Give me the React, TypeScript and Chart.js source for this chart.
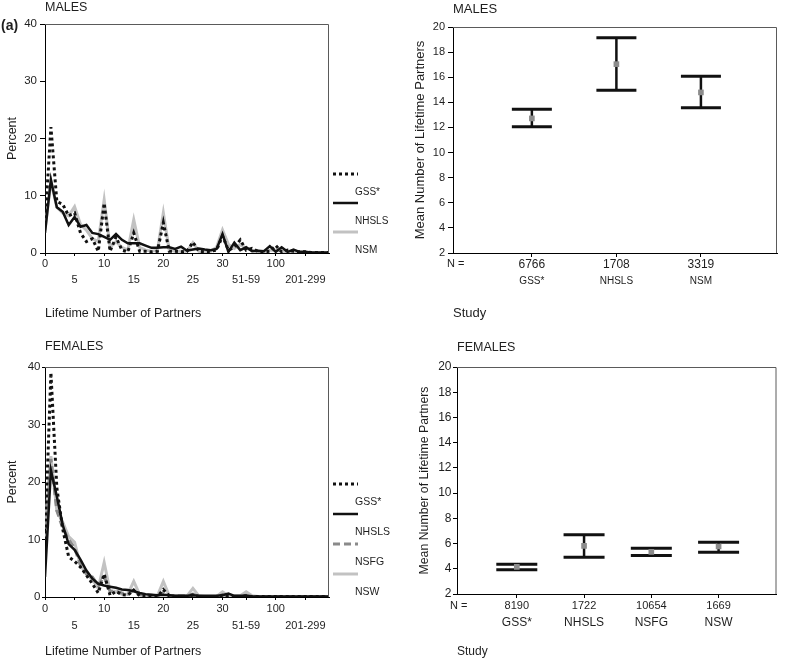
import React, { useEffect, useRef } from 'react';
import { Chart, registerables } from 'chart.js';

Chart.register(...registerables);

const FONT = '"Liberation Sans", Arial, Helvetica, sans-serif';
const TEXT = '#1e1e1e';
Chart.defaults.font.family = FONT;
Chart.defaults.color = TEXT;

// ---------- data: lifetime number of partners distribution ----------
const partnerCategories = [
  '0', '1', '2', '3', '4', '5', '6', '7', '8', '9', '10', '11', '12', '13', '14', '15', '16', '17', '18', '19',
  '20', '21', '22', '23', '24', '25', '26', '27', '28', '29', '30', '31-35', '36-40', '41-50', '51-59', '60-69',
  '70-79', '80-89', '90-99', '100', '101-125', '126-150', '151-175', '176-200', '201-299', '300-399', '400-499',
  '500-999', '1000+',
];
const shownPartnerTicks = ['0', '5', '10', '15', '20', '25', '30', '51-59', '100', '201-299'];

const maleGSS = [5, 22, 9, 8.5, 6.5, 7, 3.5, 2, 2.5, 0.3, 8.7, 0.3, 2.8, 0.5, 0.2, 3.5, 0.3, 0.3, 0.2, 0.3, 5.3, 0.3, 0.3, 0.2, 0.3, 1.9, 0.3, 0.2, 0.3, 0.5, 3, 0.5, 1, 2.3, 0.5, 0.8, 0.3, 0.2, 0.3, 1.3, 0.2, 0.5, 0.3, 0.2, 0.2, 0.1, 0.1, 0.1, 0.1];
const maleNHSLS = [3.5, 12.8, 8, 7.2, 4.9, 6.3, 4.6, 4.9, 3.5, 3.3, 2.8, 2.3, 3.3, 2.3, 1.7, 1.7, 1.7, 1.3, 0.9, 0.9, 1, 1, 0.7, 1.1, 0.4, 0.6, 0.8, 0.6, 0.5, 0.7, 3.3, 0.2, 1.8, 0.5, 1, 0.3, 0.4, 0.3, 1.2, 0.2, 1, 0.2, 0.6, 0.2, 0.2, 0.1, 0.1, 0.1, 0.1];
const maleNSM = [4, 12.5, 8, 7, 6.5, 8.1, 5, 4, 2.5, 2, 9.3, 1, 2, 1, 0.5, 5.8, 1, 0.5, 0.3, 0.5, 7, 0.5, 0.3, 0.3, 0.3, 1.8, 0.3, 0.2, 0.3, 1, 4, 1.5, 0.8, 1.5, 0.8, 0.5, 0.3, 0.2, 0.5, 0.5, 0.3, 0.2, 0.3, 0.1, 0.1, 0.1, 0.1, 0.1, 0.1];

const femaleGSS = [10, 39, 19, 11.8, 7, 6.2, 5.2, 3.8, 2.3, 0.7, 4, 0.3, 1, 0.4, 0.3, 1.2, 0.2, 0.2, 0.2, 0.1, 1.3, 0.2, 0.1, 0.1, 0.1, 0.4, 0.1, 0.1, 0.1, 0.1, 0.3, 0.1, 0.1, 0.1, 0.2, 0.1, 0.1, 0.1, 0.1, 0.1, 0.1, 0.1, 0.1, 0.1, 0.1, 0.1, 0.1, 0.1, 0.1];
const femaleNHSLS = [3.5, 22, 17.5, 12.5, 9.2, 8.2, 6.5, 4.6, 3.2, 2.3, 2, 1.8, 1.6, 1.3, 1.2, 1, 0.7, 0.5, 0.4, 0.3, 0.4, 0.3, 0.2, 0.2, 0.2, 0.3, 0.2, 0.2, 0.2, 0.2, 0.3, 0.6, 0.2, 0.2, 0.2, 0.1, 0.1, 0.1, 0.1, 0.1, 0.1, 0.1, 0.1, 0.1, 0.1, 0.1, 0.1, 0.1, 0.1];
const femaleNSFG = [10, 24, 15, 12, 10, 8.5, 5.5, 4, 3.5, 2, 3.5, 1, 1, 0.7, 0.5, 1.2, 0.4, 0.3, 0.3, 0.2, 0.8, 0.2, 0.2, 0.2, 0.2, 0.5, 0.1, 0.1, 0.1, 0.1, 0.4, 0.2, 0.1, 0.1, 0.3, 0.1, 0.1, 0.1, 0.1, 0.1, 0.1, 0.1, 0.1, 0.1, 0.1, 0.1, 0.1, 0.1, 0.1];
const femaleNSW = [12, 24.5, 15, 13, 10.5, 9.5, 5.5, 4, 3, 1.5, 6, 1, 1, 0.5, 0.5, 2.7, 0.4, 0.2, 0.2, 0.2, 2.7, 0.2, 0.2, 0.2, 0.2, 1.5, 0.2, 0.1, 0.1, 0.1, 0.9, 0.2, 0.2, 0.2, 0.9, 0.2, 0.1, 0.1, 0.1, 0.1, 0.1, 0.1, 0.1, 0.1, 0.1, 0.1, 0.1, 0.1, 0.1];

// ---------- data: mean number of lifetime partners ----------
const maleStudies = ['GSS*', 'NHSLS', 'NSM'];
const maleN = ['6766', '1708', '3319'];
const maleMean = [12.72, 17.04, 14.79];
const maleLow = [12.05, 14.97, 13.57];
const maleHigh = [13.44, 19.15, 16.08];

const femaleStudies = ['GSS*', 'NHSLS', 'NSFG', 'NSW'];
const femaleN = ['8190', '1722', '10654', '1669'];
const femaleMean = [4.15, 5.82, 5.34, 5.77];
const femaleLow = [3.92, 4.92, 5.05, 5.32];
const femaleHigh = [4.36, 6.69, 5.63, 6.11];

// ---------- styles ----------
const styleGSS = { borderColor: '#111111', borderWidth: 3, borderDash: [3, 3] };
const styleNHSLS = { borderColor: '#111111', borderWidth: 2.5, borderDash: [] as number[] };
const styleLightGray = { borderColor: '#c2c2c2', borderWidth: 3, borderDash: [] as number[] };
const styleNSFG = { borderColor: '#8a8a8a', borderWidth: 3, borderDash: [7, 4] };

// ---------- plugins ----------
const framePlugin = {
  id: 'frame',
  afterDatasetsDraw(chart: any) {
    const { ctx, chartArea: a } = chart;
    ctx.save();
    ctx.strokeStyle = '#5a5a5a';
    ctx.lineWidth = 1;
    ctx.setLineDash([]);
    ctx.beginPath();
    ctx.moveTo(a.left, a.top + 0.5);
    ctx.lineTo(a.right - 0.5, a.top + 0.5);
    ctx.lineTo(a.right - 0.5, a.bottom);
    ctx.stroke();
    ctx.restore();
  },
};

const sideLegendPlugin = {
  id: 'sideLegend',
  afterDraw(chart: any, _args: any, opts: any) {
    const { ctx, chartArea: a } = chart;
    chart.data.datasets.forEach((ds: any, i: number) => {
      const y = opts.top + i * opts.step;
      ctx.save();
      ctx.strokeStyle = ds.borderColor;
      ctx.lineWidth = ds.borderWidth;
      ctx.setLineDash(ds.borderDash || []);
      ctx.beginPath();
      ctx.moveTo(a.right + 4, y);
      ctx.lineTo(a.right + 29, y);
      ctx.stroke();
      ctx.setLineDash([]);
      ctx.fillStyle = TEXT;
      ctx.font = `${opts.fontSize}px ${FONT}`;
      ctx.textAlign = 'left';
      ctx.textBaseline = 'middle';
      ctx.fillText(ds.label, a.right + 26, y + opts.labelDy);
      ctx.restore();
    });
  },
};

const extraTextPlugin = {
  id: 'extraText',
  afterDraw(chart: any, _args: any, opts: any) {
    const { ctx } = chart;
    (opts.items || []).forEach((it: any) => {
      ctx.save();
      ctx.fillStyle = TEXT;
      ctx.font = it.font;
      ctx.textAlign = 'left';
      ctx.textBaseline = 'middle';
      ctx.fillText(it.text, it.x, it.y);
      ctx.restore();
    });
  },
};

// ---------- config builders ----------
function partnerDataset(label: string, values: number[], style: any) {
  return {
    label,
    data: partnerCategories.map((_, i) => ({ x: i, y: values[i] })),
    ...style,
    pointRadius: 0,
    tension: 0,
    fill: false,
  };
}

const shownTickIndices = shownPartnerTicks.map((l) => partnerCategories.indexOf(l));

function linePanel(p: any) {
  return {
    type: 'line',
    data: { datasets: p.datasets },
    plugins: [framePlugin, sideLegendPlugin, extraTextPlugin],
    options: {
      responsive: false,
      animation: false,
      events: [],
      layout: { padding: { top: p.padTop, left: 0, right: 71, bottom: 0 } },
      plugins: {
        legend: { display: false },
        tooltip: { enabled: false },
        title: {
          display: true,
          text: p.title,
          align: 'start',
          fullSize: false,
          color: TEXT,
          font: { size: 12.5, weight: 'normal', lineHeight: 1 },
          padding: { top: 0, bottom: p.titleBottom },
        },
        sideLegend: p.legend,
        extraText: { items: p.extra || [] },
      },
      scales: {
        x: {
          type: 'linear',
          min: 0,
          max: partnerCategories.length - 1,
          afterBuildTicks: (s: any) => {
            s.ticks = shownTickIndices.map((v) => ({ value: v }));
          },
          afterFit: (s: any) => {
            s.height = p.xHeight;
          },
          ticks: {
            autoSkip: false,
            maxRotation: 0,
            padding: 0,
            color: TEXT,
            font: { size: 11, lineHeight: p.tickLineHeight },
            callback: (v: number) => {
              const k = shownTickIndices.indexOf(v);
              const lab = partnerCategories[v];
              return k % 2 === 0 ? lab : ['', lab];
            },
          },
          grid: { drawOnChartArea: false, drawTicks: true, tickLength: 3, color: '#000' },
          border: { color: '#000', width: 1 },
          title: {
            display: true,
            text: 'Lifetime Number of Partners',
            align: 'start',
            color: TEXT,
            font: { size: 12.5, lineHeight: 1 },
            padding: { top: p.xTitlePad, bottom: 0 },
          },
        },
        y: {
          min: 0,
          max: 40,
          afterFit: (s: any) => {
            s.width = 45;
          },
          ticks: { stepSize: 10, color: TEXT, font: { size: 11.5 }, padding: p.yTickPad },
          grid: { drawOnChartArea: false, drawTicks: true, tickLength: p.yTickLen, color: '#000' },
          border: { color: '#000', width: 1 },
          title: {
            display: true,
            text: 'Percent',
            color: TEXT,
            font: { size: 12.5, lineHeight: 1 },
            padding: { top: p.yTitlePad, bottom: 0 },
          },
        },
      },
    },
  };
}

function errorPanel(p: any) {
  const studies: string[] = p.studies;
  return {
    type: 'scatter',
    data: {
      datasets: [
        {
          label: 'Mean',
          data: studies.map((_, i) => ({ x: i + 1, y: p.mean[i] })),
          showLine: false,
          pointStyle: 'rect',
          pointRadius: 4,
          pointBorderWidth: 0,
          backgroundColor: '#8c8c8c',
          borderColor: '#8c8c8c',
        },
        {
          label: '95% CI',
          data: studies.flatMap((_, i) => [
            { x: i + 1, y: p.low[i] },
            { x: i + 1, y: p.high[i] },
            { x: i + 1, y: null },
          ]),
          showLine: true,
          spanGaps: false,
          borderColor: '#111',
          borderWidth: 2.5,
          pointStyle: 'line',
          pointRadius: p.capHalf,
          pointBorderWidth: 3,
          pointBorderColor: '#111',
        },
      ],
    },
    plugins: [framePlugin, extraTextPlugin],
    options: {
      responsive: false,
      animation: false,
      events: [],
      layout: { padding: { top: p.padTop, left: 0, right: p.padRight, bottom: 0 } },
      plugins: {
        legend: { display: false },
        tooltip: { enabled: false },
        title: {
          display: true,
          text: p.title,
          align: 'start',
          fullSize: false,
          color: TEXT,
          font: { size: p.titleSize, weight: 'normal', lineHeight: 1 },
          padding: { top: 0, bottom: p.titleBottom },
        },
        extraText: { items: p.extra },
      },
      scales: {
        x: {
          type: 'linear',
          min: p.xMin,
          max: p.xMax,
          weight: 0,
          afterBuildTicks: (s: any) => {
            s.ticks = studies.map((_, i) => ({ value: i + 1 }));
          },
          afterFit: (s: any) => {
            s.height = p.xHeight;
          },
          ticks: {
            autoSkip: false,
            maxRotation: 0,
            padding: p.nPad,
            color: TEXT,
            font: { size: p.nSize },
            callback: (v: number) => p.n[v - 1],
          },
          grid: { drawOnChartArea: false, drawTicks: true, tickLength: 4, color: '#000' },
          border: { color: '#000', width: 1 },
        },
        x2: {
          type: 'linear',
          position: 'bottom',
          min: p.xMin,
          max: p.xMax,
          weight: 1,
          afterBuildTicks: (s: any) => {
            s.ticks = studies.map((_, i) => ({ value: i + 1 }));
          },
          afterFit: (s: any) => {
            s.height = p.x2Height;
          },
          ticks: {
            autoSkip: false,
            maxRotation: 0,
            padding: p.namePad,
            color: TEXT,
            font: { size: p.nameSize },
            callback: (v: number) => studies[v - 1],
          },
          grid: { display: false, drawTicks: false },
          border: { display: false },
          title: {
            display: true,
            text: 'Study',
            align: 'start',
            color: TEXT,
            font: { size: p.studySize, lineHeight: 1 },
            padding: { top: p.studyPad, bottom: 0 },
          },
        },
        y: {
          min: 2,
          max: 20,
          afterFit: (s: any) => {
            s.width = p.yWidth;
          },
          ticks: { stepSize: 2, color: TEXT, font: { size: p.yTickSize }, padding: p.yTickPad },
          grid: { drawOnChartArea: false, drawTicks: true, tickLength: p.yTickLen, color: '#000' },
          border: { color: '#000', width: 1 },
          title: {
            display: true,
            text: 'Mean Number of Lifetime Partners',
            color: TEXT,
            font: { size: p.yTitleSize, lineHeight: 1 },
            padding: { top: p.yTitlePad, bottom: 0 },
          },
        },
      },
    },
  };
}

const panels = [
  {
    key: 'ml',
    left: 0,
    top: 0,
    width: 400,
    height: 320,
    make: () =>
      linePanel({
        title: 'MALES',
        padTop: 1,
        titleBottom: 10.5,
        xHeight: 67,
        tickLineHeight: 1.45,
        xTitlePad: 6.75,
        yTitlePad: 6.25,
        yTickPad: 3,
        yTickLen: 5,
        datasets: [
          partnerDataset('GSS*', maleGSS, styleGSS),
          partnerDataset('NHSLS', maleNHSLS, styleNHSLS),
          partnerDataset('NSM', maleNSM, styleLightGray),
        ],
        legend: { top: 174, step: 29, labelDy: 18, fontSize: 10 },
        extra: [{ text: '(a)', x: 1, y: 26, font: `bold 14px ${FONT}` }],
      }),
  },
  {
    key: 'mr',
    left: 400,
    top: 0,
    width: 400,
    height: 320,
    make: () =>
      errorPanel({
        title: 'MALES',
        titleSize: 13,
        padTop: 3,
        titleBottom: 11,
        padRight: 2,
        studies: maleStudies,
        n: maleN,
        mean: maleMean,
        low: maleLow,
        high: maleHigh,
        capHalf: 20,
        xMin: 0.067,
        xMax: 3.9,
        xHeight: 19,
        x2Height: 48,
        nSize: 12,
        nPad: 0,
        nameSize: 10,
        namePad: 3,
        studySize: 13,
        studyPad: 8.5,
        yWidth: 53,
        yTickSize: 11,
        yTickPad: 3,
        yTickLen: 5,
        yTitleSize: 13,
        yTitlePad: 13.5,
        extra: [{ text: 'N =', x: 47, y: 264, font: `11px ${FONT}` }],
      }),
  },
  {
    key: 'fl',
    left: 0,
    top: 320,
    width: 400,
    height: 338,
    make: () =>
      linePanel({
        title: 'FEMALES',
        padTop: 20,
        titleBottom: 14.5,
        xHeight: 61,
        tickLineHeight: 1.55,
        xTitlePad: 0.75,
        yTitlePad: 6.75,
        yTickPad: 1.5,
        yTickLen: 3,
        datasets: [
          partnerDataset('GSS*', femaleGSS, styleGSS),
          partnerDataset('NHSLS', femaleNHSLS, styleNHSLS),
          partnerDataset('NSFG', femaleNSFG, styleNSFG),
          partnerDataset('NSW', femaleNSW, styleLightGray),
        ],
        legend: { top: 164, step: 30, labelDy: 18, fontSize: 10.5 },
        extra: [],
      }),
  },
  {
    key: 'fr',
    left: 400,
    top: 320,
    width: 400,
    height: 338,
    make: () =>
      errorPanel({
        title: 'FEMALES',
        titleSize: 12.5,
        padTop: 21,
        titleBottom: 13.5,
        padRight: 1,
        studies: femaleStudies,
        n: femaleN,
        mean: femaleMean,
        low: femaleLow,
        high: femaleHigh,
        capHalf: 20.5,
        xMin: 0.111,
        xMax: 4.861,
        xHeight: 20,
        x2Height: 44,
        nSize: 11,
        nPad: 1.4,
        nameSize: 12,
        namePad: 1.8,
        studySize: 12,
        studyPad: 1,
        yWidth: 57,
        yTickSize: 12,
        yTickPad: 1.5,
        yTickLen: 4,
        yTitleSize: 12.3,
        yTitlePad: 18.5,
        extra: [{ text: 'N =', x: 50, y: 286, font: `11px ${FONT}` }],
      }),
  },
];

function ChartCanvas({ left, top, width, height, make }: any) {
  const ref = useRef<HTMLCanvasElement>(null);
  useEffect(() => {
    if (!ref.current) return;
    const chart = new Chart(ref.current, make() as any);
    return () => chart.destroy();
  }, []);
  return (
    <canvas
      ref={ref}
      width={width}
      height={height}
      style={{ position: 'absolute', left, top, width, height, display: 'block' }}
    />
  );
}

export default function App() {
  return (
    <div style={{ position: 'absolute', left: 0, top: 0, width: 800, height: 658, background: '#ffffff', overflow: 'hidden' }}>
      {panels.map((p) => (
        <ChartCanvas key={p.key} left={p.left} top={p.top} width={p.width} height={p.height} make={p.make} />
      ))}
    </div>
  );
}
